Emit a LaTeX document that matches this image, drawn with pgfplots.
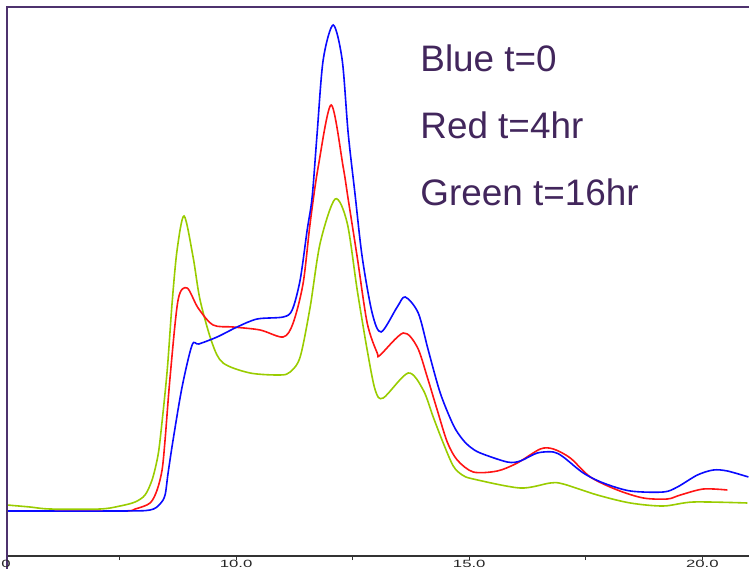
\documentclass[border=0pt]{standalone}
\usepackage{fontspec}
\setmainfont{Liberation Sans}
\usepackage{graphicx}
\usepackage{pgfplots}
\pgfplotsset{compat=1.18}
\definecolor{txtpurple}{RGB}{66,38,92}
\definecolor{framepurple}{RGB}{78,50,110}
\definecolor{cblue}{RGB}{10,10,255}
\definecolor{cred}{RGB}{255,20,20}
\definecolor{cgreen}{RGB}{153,204,0}
\begin{document}
\begin{tikzpicture}
\begin{axis}[
  scale only axis, width=742bp, height=549bp,
  xmin=5.086, xmax=21.0, ymin=0, ymax=549,
  clip mode=individual,
  axis x line*=bottom, axis y line*=left,
  y axis line style={draw=none}, ytick=\empty,
  x axis line style={-, draw=black!80, line width=1.4bp},
  xtick={10,15,20},
  xticklabels={\scalebox{1.6}[1]{10.0},\scalebox{1.6}[1]{15.0},\scalebox{1.6}[1]{20.0}},
  minor xtick={7.5,12.5,17.5},
  tick align=outside, major tick length=4bp, minor tick length=4bp,
  every tick/.style={black!80, line width=1bp},
  xticklabel style={font=\fontsize{10.5}{10.5}\selectfont, text=black!85, anchor=north, inner sep=0pt, yshift=0.5bp},
  every axis plot/.append style={line width=1.6bp, smooth, tension=0.5},
]
% Green t=16hr
\addplot[cgreen] coordinates {
(5.086,51) (5.579,49) (6.009,47) (7.082,47) (7.511,50) (7.833,54) (8.047,61)
(8.197,76) (8.305,96) (8.369,116) (8.519,184) (8.627,253) (8.734,306) (8.884,340)
(9.077,299) (9.227,256) (9.485,213) (9.721,193) (10.300,183) (10.944,181) (11.159,184)
(11.373,199) (11.588,249) (11.803,313) (12.124,357) (12.382,333) (12.597,266) (12.811,206)
(12.983,166) (13.155,158) (13.691,183) (14.013,166) (14.227,139) (14.442,113) (14.657,90)
(14.850,81) (15.086,77) (16.094,68) (16.738,73) (17.017,72) (17.747,61) (18.455,53) (19.163,50)
(19.807,54) (20.966,53)
};
% Red t=4hr
\addplot[cred] coordinates {
(5.086,45) (7.511,45) (7.833,47) (8.155,53) (8.305,66) (8.412,86) (8.476,116)
(8.584,179) (8.755,256) (8.948,268) (9.185,248) (9.506,231) (9.936,229) (10.515,226)
(11.009,219) (11.223,233) (11.438,273) (11.588,333) (11.760,389) (12.039,451)
(12.296,389) (12.403,357) (12.597,299) (12.811,233) (13.026,203) (13.090,201)
(13.584,223) (13.884,209) (14.099,179) (14.313,146) (14.528,114) (14.742,96)
(15.086,84) (15.601,85) (16.030,93) (16.524,107) (16.803,107) (17.167,98) (17.597,79)
(18.176,66) (18.734,58) (19.249,57) (19.528,61) (20.021,67) (20.536,66)
};
% Blue t=0
\addplot[cblue] coordinates {
(5.086,45) (7.511,45) (8.155,46) (8.369,52) (8.476,61) (8.541,83) (8.648,116)
(8.841,169) (9.056,211) (9.200,212) (9.592,219) (10.021,229) (10.451,237) (11.009,239)
(11.202,246) (11.373,276) (11.524,326) (11.631,359) (11.738,423) (11.867,496)
(12.082,531) (12.275,496) (12.403,423) (12.550,362) (12.704,299) (12.918,243)
(13.110,224) (13.455,249) (13.627,259) (13.906,243) (14.120,206) (14.378,163)
(14.657,131) (14.850,117) (15.021,109) (15.236,103) (15.815,94) (16.094,95) (16.459,103)
(16.803,104) (17.017,99) (17.446,83) (17.876,73) (18.455,65) (19.163,64) (19.464,69)
(19.893,81) (20.236,86) (20.536,85) (20.987,79)
};
\draw[framepurple, line width=2bp] ([yshift=-14bp]rel axis cs:0,0) -- (rel axis cs:0,1) -- (rel axis cs:1,1);
\node[anchor=north east, inner sep=0pt, font=\fontsize{10.5}{10.5}\selectfont, text=black!85]
  at ([xshift=4bp,yshift=-3.5bp]rel axis cs:0,0) {\scalebox{1.6}[1]{5.0}};
\begin{scope}[every node/.style={anchor=base west, inner sep=0pt, text=txtpurple, font=\fontsize{37}{37}\selectfont}]
\node at (rel axis cs:0.5569,0.882) {Blue t=0};
\node at (rel axis cs:0.5569,0.761) {Red t=4hr};
\node at (rel axis cs:0.5569,0.639) {Green t=16hr};
\end{scope}
\coordinate (ll) at (rel axis cs:0,0);
\coordinate (ur) at (rel axis cs:1,1);
\end{axis}
\pgfresetboundingbox
\path ([xshift=-7bp,yshift=-13bp]ll) rectangle ([yshift=7bp]ur);
\end{tikzpicture}
\end{document}
